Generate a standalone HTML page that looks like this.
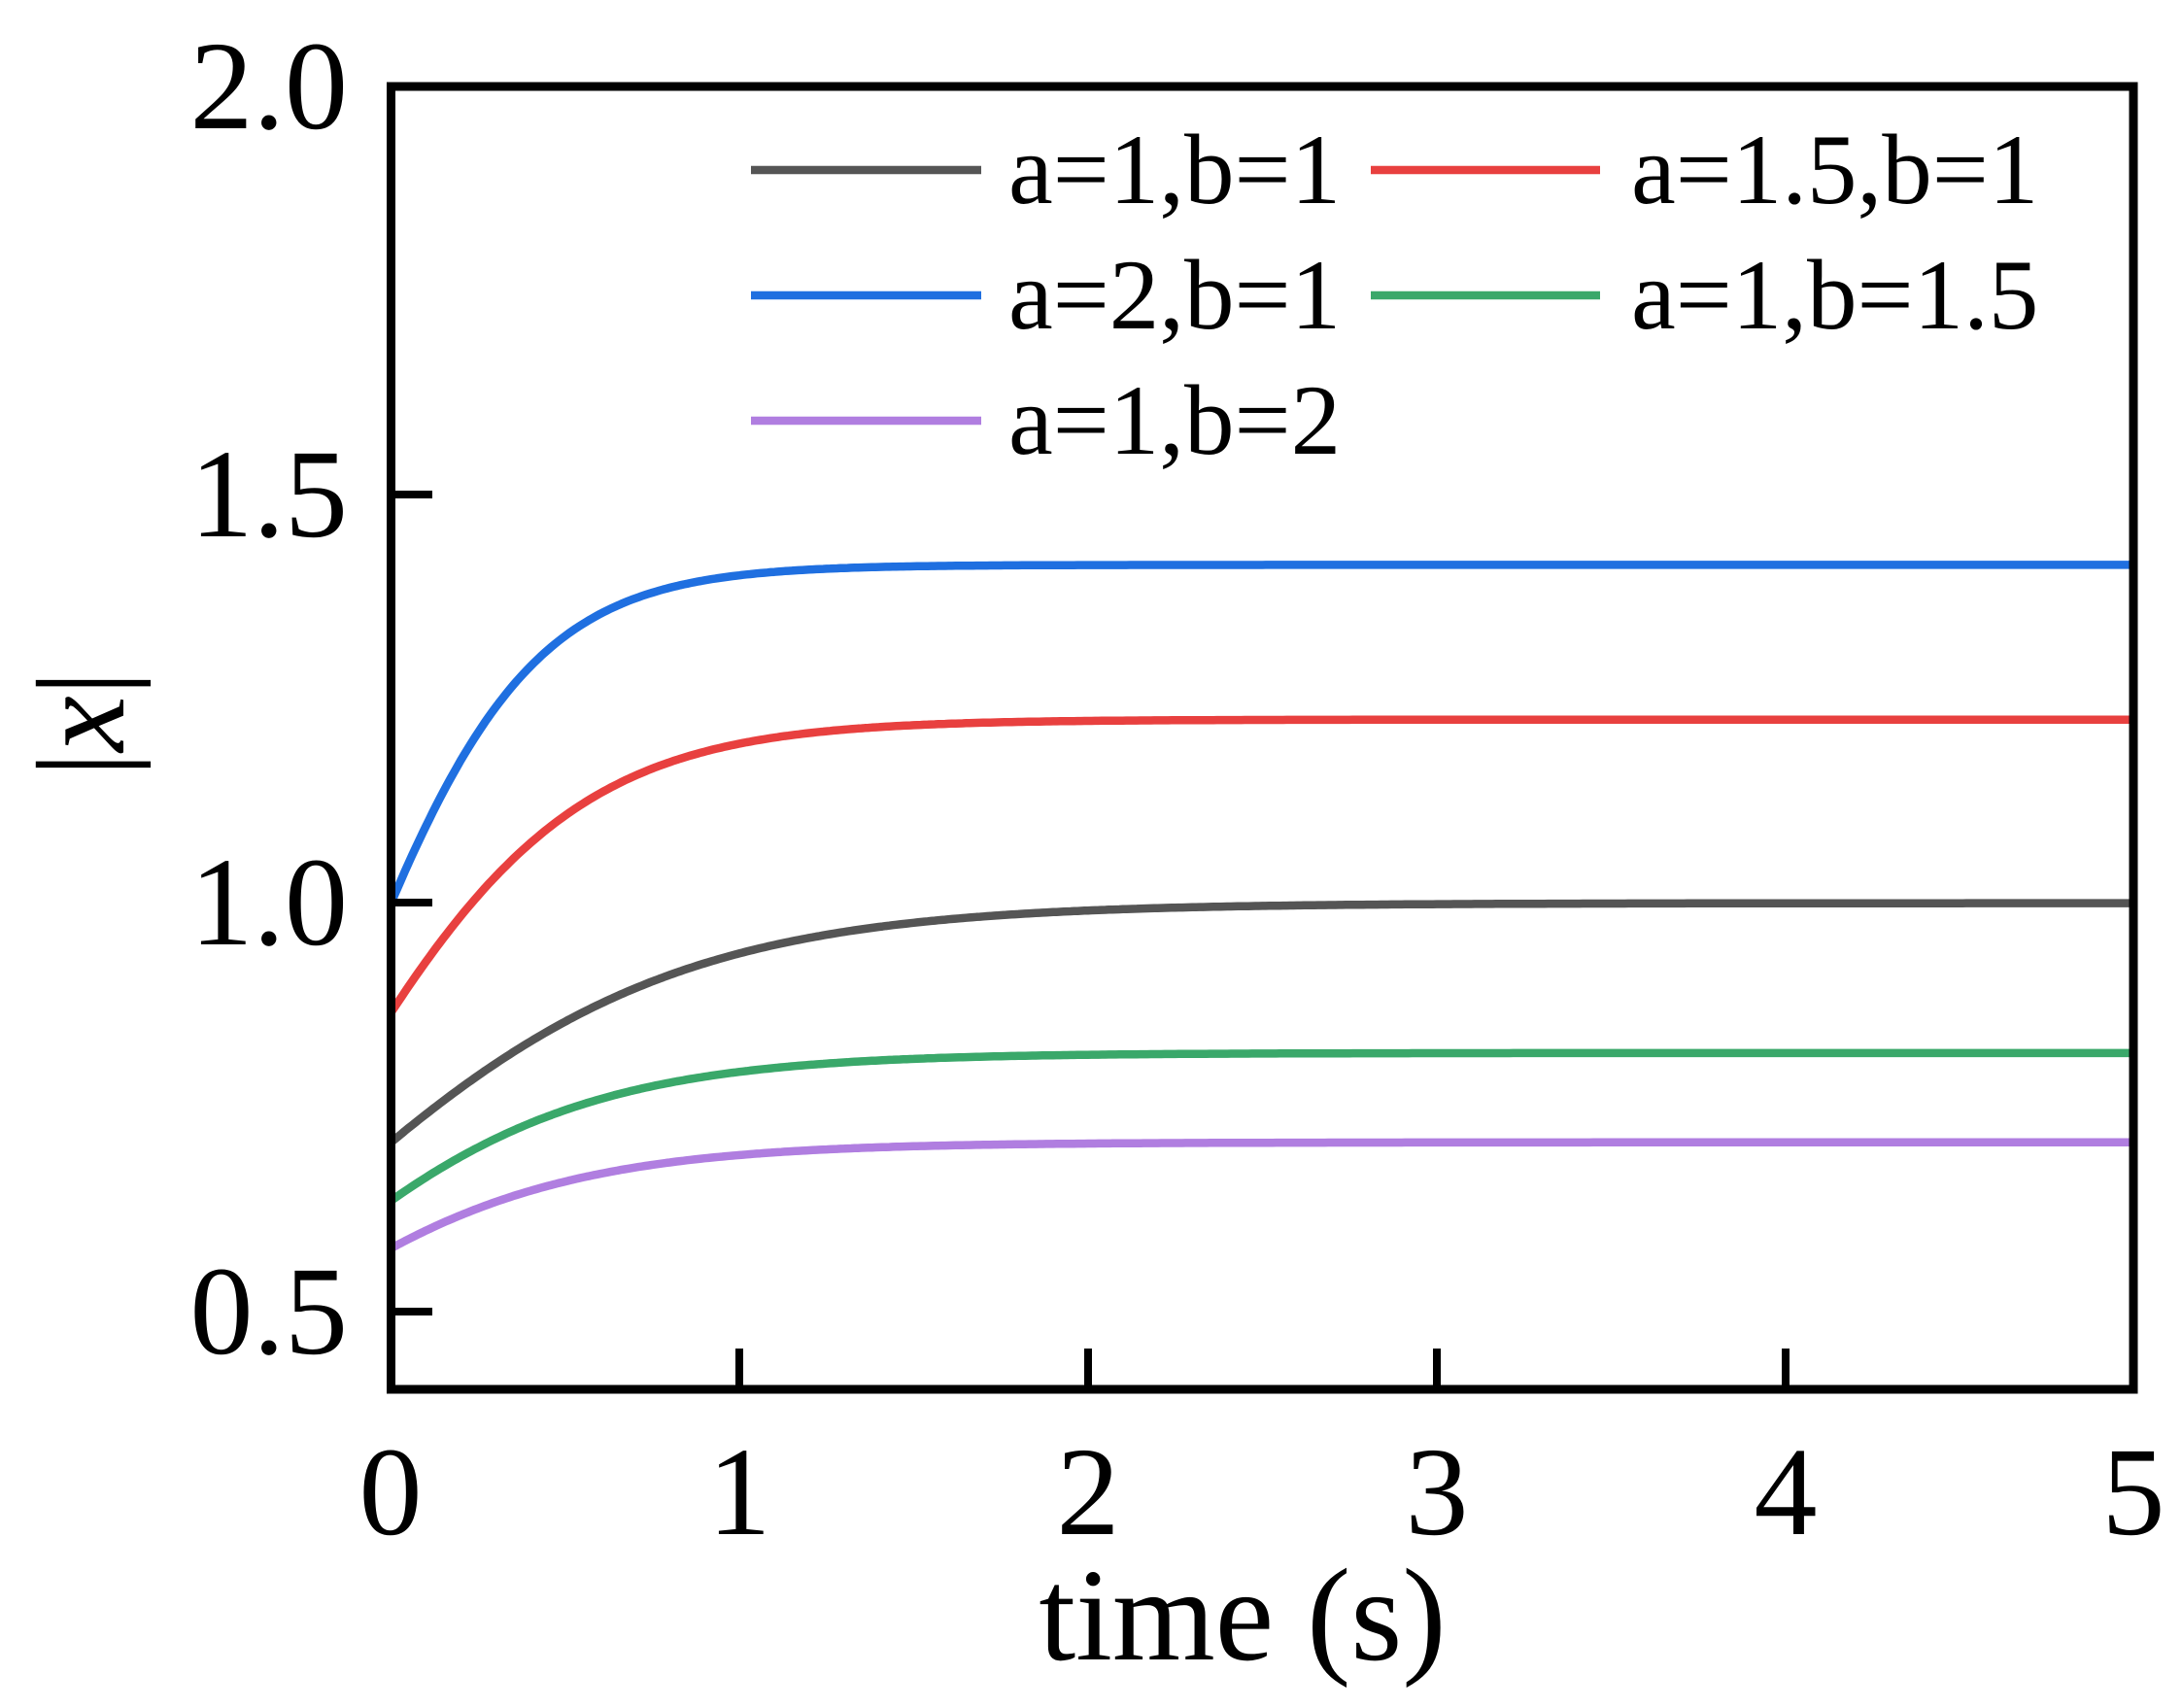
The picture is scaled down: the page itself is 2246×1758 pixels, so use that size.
<!DOCTYPE html>
<html><head><meta charset="utf-8"><style>
html,body{margin:0;padding:0;background:#fff;}
svg{display:block;}
text{font-family:"Liberation Serif",serif;fill:#000;}
</style></head><body>
<svg id="s" width="2246" height="1758" viewBox="0 0 2246 1758" xmlns="http://www.w3.org/2000/svg">
<g id="curves" fill="none" stroke-width="8.5" stroke-linejoin="round"></g>
<rect x="402.5" y="89" width="1793.5" height="1341" fill="none" stroke="#000" stroke-width="9"/>
<g stroke="#000" stroke-width="8">
<line x1="402.5" y1="509" x2="445" y2="509"/>
<line x1="402.5" y1="929" x2="445" y2="929"/>
<line x1="402.5" y1="1350" x2="445" y2="1350"/>
<line x1="761" y1="1430" x2="761" y2="1388"/>
<line x1="1120" y1="1430" x2="1120" y2="1388"/>
<line x1="1479" y1="1430" x2="1479" y2="1388"/>
<line x1="1838" y1="1430" x2="1838" y2="1388"/>
</g>
<g font-size="130" text-anchor="end">
<text x="358" y="132">2.0</text>
<text x="358" y="552">1.5</text>
<text x="358" y="972">1.0</text>
<text x="358" y="1393">0.5</text>
</g>
<g font-size="130" text-anchor="middle">
<text x="402" y="1579">0</text>
<text x="761" y="1579">1</text>
<text x="1120" y="1579">2</text>
<text x="1479" y="1579">3</text>
<text x="1838" y="1579">4</text>
<text x="2196" y="1579">5</text>
<text x="1279" y="1708" font-size="136">time (s)</text>
</g>
<text transform="translate(127,745) rotate(-90)" font-size="130" text-anchor="middle">|<tspan font-style="italic">x</tspan>|</text>
<g stroke-width="8.5">
<line x1="773" y1="175" x2="1010" y2="175" stroke="#555"/>
<line x1="1411" y1="175" x2="1647" y2="175" stroke="#e8403f"/>
<line x1="773" y1="304" x2="1010" y2="304" stroke="#1f6fe0"/>
<line x1="1411" y1="304" x2="1647" y2="304" stroke="#3aa86a"/>
<line x1="773" y1="433" x2="1010" y2="433" stroke="#b07ee0"/>
</g>
<g font-size="103">
<text x="1038" y="209">a=1,b=1</text>
<text x="1679" y="209">a=1.5,b=1</text>
<text x="1038" y="338">a=2,b=1</text>
<text x="1679" y="338">a=1,b=1.5</text>
<text x="1038" y="467">a=1,b=2</text>
</g>
</svg>
<script>
var series=[
 ["#555",1.0,1.0,2.0],
 ["#e8403f",1.2247,1.0,3.0],
 ["#1f6fe0",1.4142,1.0,4.0],
 ["#3aa86a",0.8165,0.65,2.4],
 ["#b07ee0",0.7071,0.5,2.4]];
var g=document.getElementById('curves');
series.forEach(function(s){
 var d='';
 for(var i=0;i<=500;i++){
  var t=i/100, v=s[1]/Math.sqrt(1+s[2]*Math.exp(-s[3]*t));
  var x=402.5+t*358.7, y=89+(2-v)*840.6;
  d+=(i?'L':'M')+x.toFixed(1)+' '+y.toFixed(1);
 }
 var p=document.createElementNS('http://www.w3.org/2000/svg','path');
 p.setAttribute('d',d);p.setAttribute('stroke',s[0]);g.appendChild(p);
});
</script>
</body></html>
